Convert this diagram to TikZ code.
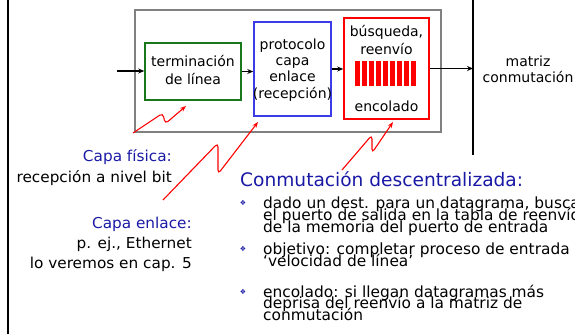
\documentclass[tikz,border=0pt]{standalone}
\usepackage{fontspec}
\setmainfont{DejaVu Sans}
\newfontfamily\lblfont[FakeStretch=1.02]{DejaVu Sans}
\usetikzlibrary{arrows.meta}
\definecolor{tblue}{RGB}{25,25,165}
\definecolor{bxgreen}{RGB}{25,120,25}
\definecolor{bxblue}{RGB}{60,60,230}
\definecolor{bxred}{RGB}{255,0,0}
\definecolor{framegray}{RGB}{128,128,128}
\tikzset{
  boxst/.style={draw=#1, line width=1.6pt, inner sep=0pt},
  boxtxt/.style={anchor=base, inner sep=0pt, font=\fontsize{14}{16}\selectfont},
  lbl/.style={anchor=base east, inner sep=0pt, font=\lblfont\fontsize{15}{17}\selectfont},
  btxt/.style={anchor=base west, inner sep=0pt, font=\fontsize{15.4}{16}\selectfont},
  blt/.style={anchor=center, inner sep=0pt, text=tblue, font=\fontsize{7}{8}\selectfont},
  blkarrow/.style={line width=1.2pt, -{Stealth[length=6pt,width=5pt]}},
  zig/.style={draw=red, line width=1.1pt, rounded corners=4pt, -{Stealth[length=6pt,width=4.5pt]}}
}
\begin{document}
\begin{tikzpicture}[x=1pt,y=-1pt]
\useasboundingbox (0,0) rectangle (575,334);
\clip (0,0) rectangle (575,334);
% side lines
\coordinate (ltop) at (8,0);
\coordinate (lbot) at (8,334);
\draw[line width=2.4pt] (ltop) -- (lbot);
\coordinate (mtop) at (473,0);
\coordinate (mbot) at (473,155);
\draw[line width=1.3pt] (mtop) -- (mbot);
% frame and boxes
\node[boxst=framegray, line width=1.5pt, minimum width=306pt, minimum height=122pt] (frame) at (288,71) {};
\node[boxst=bxgreen, minimum width=96pt, minimum height=57pt] (green) at (193,71.5) {};
\node[boxst=bxblue, minimum width=77pt, minimum height=94pt] (blue) at (292.5,69) {};
\node[boxst=bxred, minimum width=85pt, minimum height=101pt] (redb) at (386.5,68.5) {};
% box texts
\node[boxtxt] (g1) at (193,67) {terminación};
\node[boxtxt] (g2) at (193,85) {de línea};
\node[boxtxt] (b1) at (292.5,50) {protocolo};
\node[boxtxt] (b2) at (292.5,66) {capa};
\node[boxtxt] (b3) at (292.5,82) {enlace};
\node[boxtxt] (b4) at (292.5,99) {(recepción)};
\node[boxtxt] (r1) at (386.5,37) {búsqueda,};
\node[boxtxt] (r2) at (386.5,55) {reenvío};
\node[boxtxt] (r3) at (386.5,111) {encolado};
\foreach \i in {0,...,8}{\fill[bxred] (355+\i*7,61) rectangle +(5,25);}
\node[boxtxt] (m1) at (528,67) {matriz};
\node[boxtxt] (m2) at (528,83) {conmutación};
% black arrows
\coordinate (inp) at (117,71);
\coordinate (outp) at (473,68.5);
\draw[blkarrow] (inp) -- (inp -| green.west);
\draw[blkarrow] (green.east) -- (green.east -| blue.west);
\draw[blkarrow] (blue.east) -- (blue.east -| redb.west);
\draw[blkarrow] (redb.east) -- (outp);
% red zigzags
\coordinate (z1a) at (133,133); \coordinate (z1b) at (163,113); \coordinate (z1c) at (165,124); \coordinate (z1d) at (186,106);
\draw[zig] (z1a) -- (z1b) -- (z1c) -- (z1d);
\coordinate (z2a) at (163,200); \coordinate (z2b) at (218,143); \coordinate (z2c) at (218,174); \coordinate (z2d) at (258,122);
\draw[zig] (z2a) -- (z2b) -- (z2c) -- (z2d);
\coordinate (z3a) at (342,170); \coordinate (z3b) at (372,135); \coordinate (z3c) at (372,153); \coordinate (z3d) at (393,122);
\draw[zig] (z3a) -- (z3b) -- (z3c) -- (z3d);
% left labels
\node[lbl, text=tblue] (l1) at (172,161) {Capa física:};
\node[lbl] (l2) at (172,182) {recepción a nivel bit};
\node[lbl, text=tblue] (l3) at (192,228) {Capa enlace:};
\node[lbl] (l4) at (192,248) {p. ej., Ethernet};
\node[lbl] (l5) at (192,268) {lo veremos en cap. 5};
% right text
\node[anchor=base west, inner sep=0pt, text=tblue, font=\fontsize{18.6}{20}\selectfont] (title) at (240,186) {Conmutación descentralizada:};
\node[blt] (bu1) at (243,203) {❖};
\node[btxt] (t11) at (263,208) {dado un dest. para un datagrama, buscar};
\node[btxt] (t12) at (263,220) {el puerto de salida en la tabla de reenvío};
\node[btxt] (t13) at (263,232) {de la memoria del puerto de entrada};
\node[blt] (bu2) at (243,249) {❖};
\node[btxt] (t21) at (263,254) {objetivo: completar proceso de entrada};
\node[btxt] (t22) at (263,266) {‘velocidad de línea’};
\node[blt] (bu3) at (243,292) {❖};
\node[btxt] (t31) at (263,297) {encolado: si llegan datagramas más};
\node[btxt] (t32) at (263,308.5) {deprisa del reenvío a la matriz de};
\node[btxt] (t33) at (263,320) {conmutación};
\end{tikzpicture}
\end{document}
